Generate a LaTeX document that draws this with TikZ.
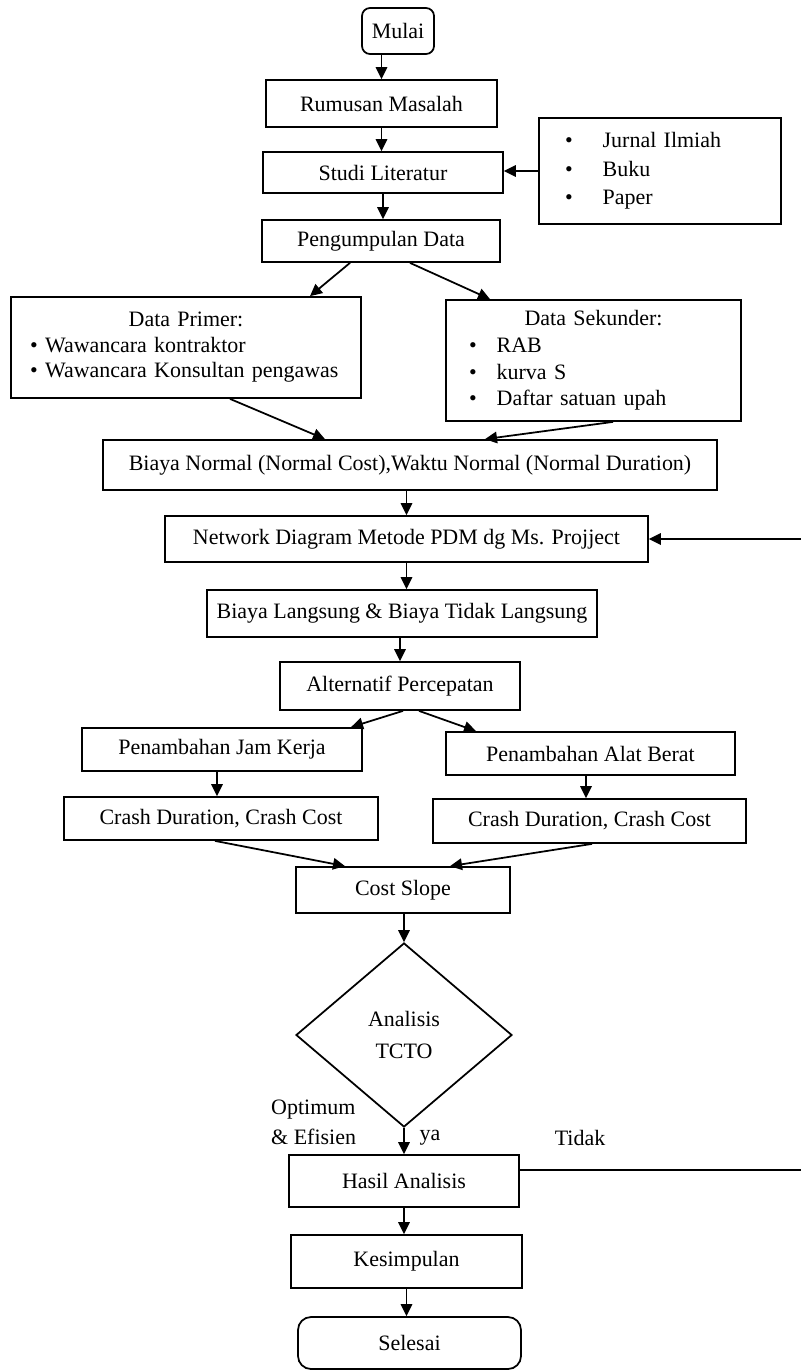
\documentclass[tikz,border=0pt]{standalone}
\usepackage{fontspec}
\setmainfont{Liberation Serif}
\usetikzlibrary{shapes.geometric,arrows.meta,positioning,calc}

\begin{document}
\begin{tikzpicture}[
    font=\fontsize{12.5}{14.5}\selectfont,
    kotak/.style={rectangle, draw, line width=1pt, inner sep=2pt},
    terminal/.style={rectangle, draw, rounded corners=0.2cm, line width=1pt},
    keputusan/.style={diamond, draw, line width=1pt, align=center, inner sep=0pt},
    arrow/.style={-{Triangle[length=2.4mm,width=2.3mm]}, line width=1pt},
    garis/.style={line width=0.8pt}
]
    \useasboundingbox (0,0) rectangle (16.02,-27.42);

    \node[terminal, minimum width=1.44cm, minimum height=0.92cm, rounded corners=0.16cm] (mulai) at (7.96,-0.62) {Mulai};
    \node[kotak, minimum width=4.62cm, minimum height=0.94cm] (rumusan) at (7.63,-2.07) {Rumusan Masalah};
    \node[kotak, minimum width=4.80cm, minimum height=0.82cm] (studi) at (7.66,-3.45) {Studi Literatur};
    \node[kotak, minimum width=4.76cm, minimum height=2.12cm, text width=4.7cm, align=left, font=\fontsize{12.5}{16.2}\selectfont] (pustaka) at (13.20,-3.42)
        {\hspace*{0.45cm}\textbullet\hspace{0.6cm}Jurnal Ilmiah\\
         \hspace*{0.45cm}\textbullet\hspace{0.6cm}Buku\\
         \hspace*{0.45cm}\textbullet\hspace{0.6cm}Paper};
    \node[kotak, minimum width=4.76cm, minimum height=0.84cm] (kumpul) at (7.62,-4.82) {Pengumpulan Data};
    \node[kotak, minimum width=7.00cm, minimum height=2.02cm, text width=6.96cm, align=left, inner xsep=0pt] (primer) at (3.72,-6.95)
        {\makebox[6.96cm]{Data Primer:}\\
         \hspace*{0.36cm}\textbullet\ Wawancara kontraktor\\
         \hspace*{0.36cm}\textbullet\ Wawancara Konsultan pengawas};
    \node[kotak, minimum width=5.90cm, minimum height=2.42cm, text width=5.86cm, align=left, inner xsep=0pt, font=\fontsize{12.5}{15.2}\selectfont] (sekunder) at (11.87,-7.21)
        {\makebox[5.86cm]{Data Sekunder:}\\
         \hspace*{0.44cm}\textbullet\hspace{0.4cm}RAB\\
         \hspace*{0.44cm}\textbullet\hspace{0.4cm}kurva S\\
         \hspace*{0.44cm}\textbullet\hspace{0.4cm}Daftar satuan upah};
    \node[kotak, minimum width=12.28cm, minimum height=1.00cm] (normal) at (8.20,-9.30) {Biaya Normal (Normal Cost),Waktu Normal (Normal Duration)};
    \node[kotak, minimum width=9.66cm, minimum height=0.92cm] (network) at (8.13,-10.78) {Network Diagram Metode PDM dg Ms. Projject};
    \node[kotak, minimum width=7.80cm, minimum height=0.94cm] (langsung) at (8.04,-12.27) {Biaya Langsung \& Biaya Tidak Langsung};
    \node[kotak, minimum width=4.80cm, minimum height=0.96cm] (alternatif) at (8.00,-13.72) {Alternatif Percepatan};
    \node[kotak, minimum width=5.60cm, minimum height=0.86cm] (jamkerja) at (4.44,-14.99) {Penambahan Jam Kerja};
    \node[kotak, minimum width=5.78cm, minimum height=0.86cm] (alatberat) at (11.81,-15.07) {Penambahan Alat Berat};
    \node[kotak, minimum width=6.28cm, minimum height=0.86cm] (crashkiri) at (4.42,-16.37) {Crash Duration, Crash Cost};
    \node[kotak, minimum width=6.26cm, minimum height=0.88cm] (crashkanan) at (11.79,-16.42) {Crash Duration, Crash Cost};
    \node[kotak, minimum width=4.28cm, minimum height=0.92cm] (costslope) at (8.06,-17.80) {Cost Slope};
    \node[keputusan, minimum width=4.32cm, minimum height=3.68cm] (tcto) at (8.08,-20.70) {Analisis\\[4pt]TCTO};
    \node[kotak, minimum width=4.60cm, minimum height=1.04cm] (hasil) at (8.08,-23.62) {Hasil Analisis};
    \node[kotak, minimum width=4.62cm, minimum height=1.06cm] (kesimpulan) at (8.13,-25.23) {Kesimpulan};
    \node[terminal, minimum width=4.46cm, minimum height=1.04cm, rounded corners=0.26cm] (selesai) at (8.19,-26.86) {Selesai};

    \node[align=left, anchor=west, font=\fontsize{12.5}{17}\selectfont] (optimum) at (5.30,-22.44) {Optimum\\\& Efisien};
    \node (ya) at (8.60,-22.76) {ya};
    \node (tidak) at (11.60,-22.76) {Tidak};

    \coordinate (kanan1) at (16.02,-10.78);
    \coordinate (kanan2) at (16.02,-23.40);

    \draw[arrow] (mulai.south -| rumusan) -- (rumusan.north);
    \draw[arrow] (rumusan.south) -- (rumusan.south |- studi.north);
    \draw[arrow] (studi.south) -- (studi.south |- kumpul.north);
    \draw[arrow] (pustaka.west) -- (pustaka.west -| studi.east);
    \draw[arrow] ([xshift=-0.62cm]kumpul.south) -- ([xshift=2.48cm]primer.north);
    \draw[arrow] ([xshift=0.58cm]kumpul.south) -- ([xshift=-2.07cm]sekunder.north);
    \draw[arrow] ([xshift=0.88cm]primer.south) -- ([xshift=-1.70cm]normal.north);
    \draw[arrow] ([xshift=0.39cm]sekunder.south) -- ([xshift=1.50cm]normal.north);
    \draw[arrow] (normal.south -| network) -- (network.north);
    \draw[arrow] (kanan1) -- (network.east);
    \draw[arrow] (network.south) -- (network.south |- langsung.north);
    \draw[arrow] (langsung.south -| alternatif) -- (alternatif.north);
    \draw[arrow] ([xshift=0.06cm]alternatif.south) -- ([xshift=2.58cm]jamkerja.north);
    \draw[arrow] ([xshift=0.38cm]alternatif.south) -- ([xshift=-2.29cm]alatberat.north);
    \draw[arrow] ([xshift=-0.10cm]jamkerja.south) -- ([xshift=-0.10cm]jamkerja.south |- crashkiri.north);
    \draw[arrow] ([xshift=-0.09cm]alatberat.south) -- ([xshift=-0.09cm]alatberat.south |- crashkanan.north);
    \draw[arrow] ([xshift=-0.12cm]crashkiri.south) -- ([xshift=-1.16cm]costslope.north);
    \draw[arrow] ([xshift=0.05cm]crashkanan.south) -- ([xshift=0.94cm]costslope.north);
    \draw[arrow] (costslope.south -| tcto) -- (tcto.north);
    \draw[arrow] (tcto.south) -- (tcto.south |- hasil.north);
    \draw[garis] ([yshift=0.22cm]hasil.east) -- (kanan2);
    \draw[arrow] (hasil.south) -- (hasil.south |- kesimpulan.north);
    \draw[arrow] (kesimpulan.south) -- (kesimpulan.south |- selesai.north);
\end{tikzpicture}
\end{document}
